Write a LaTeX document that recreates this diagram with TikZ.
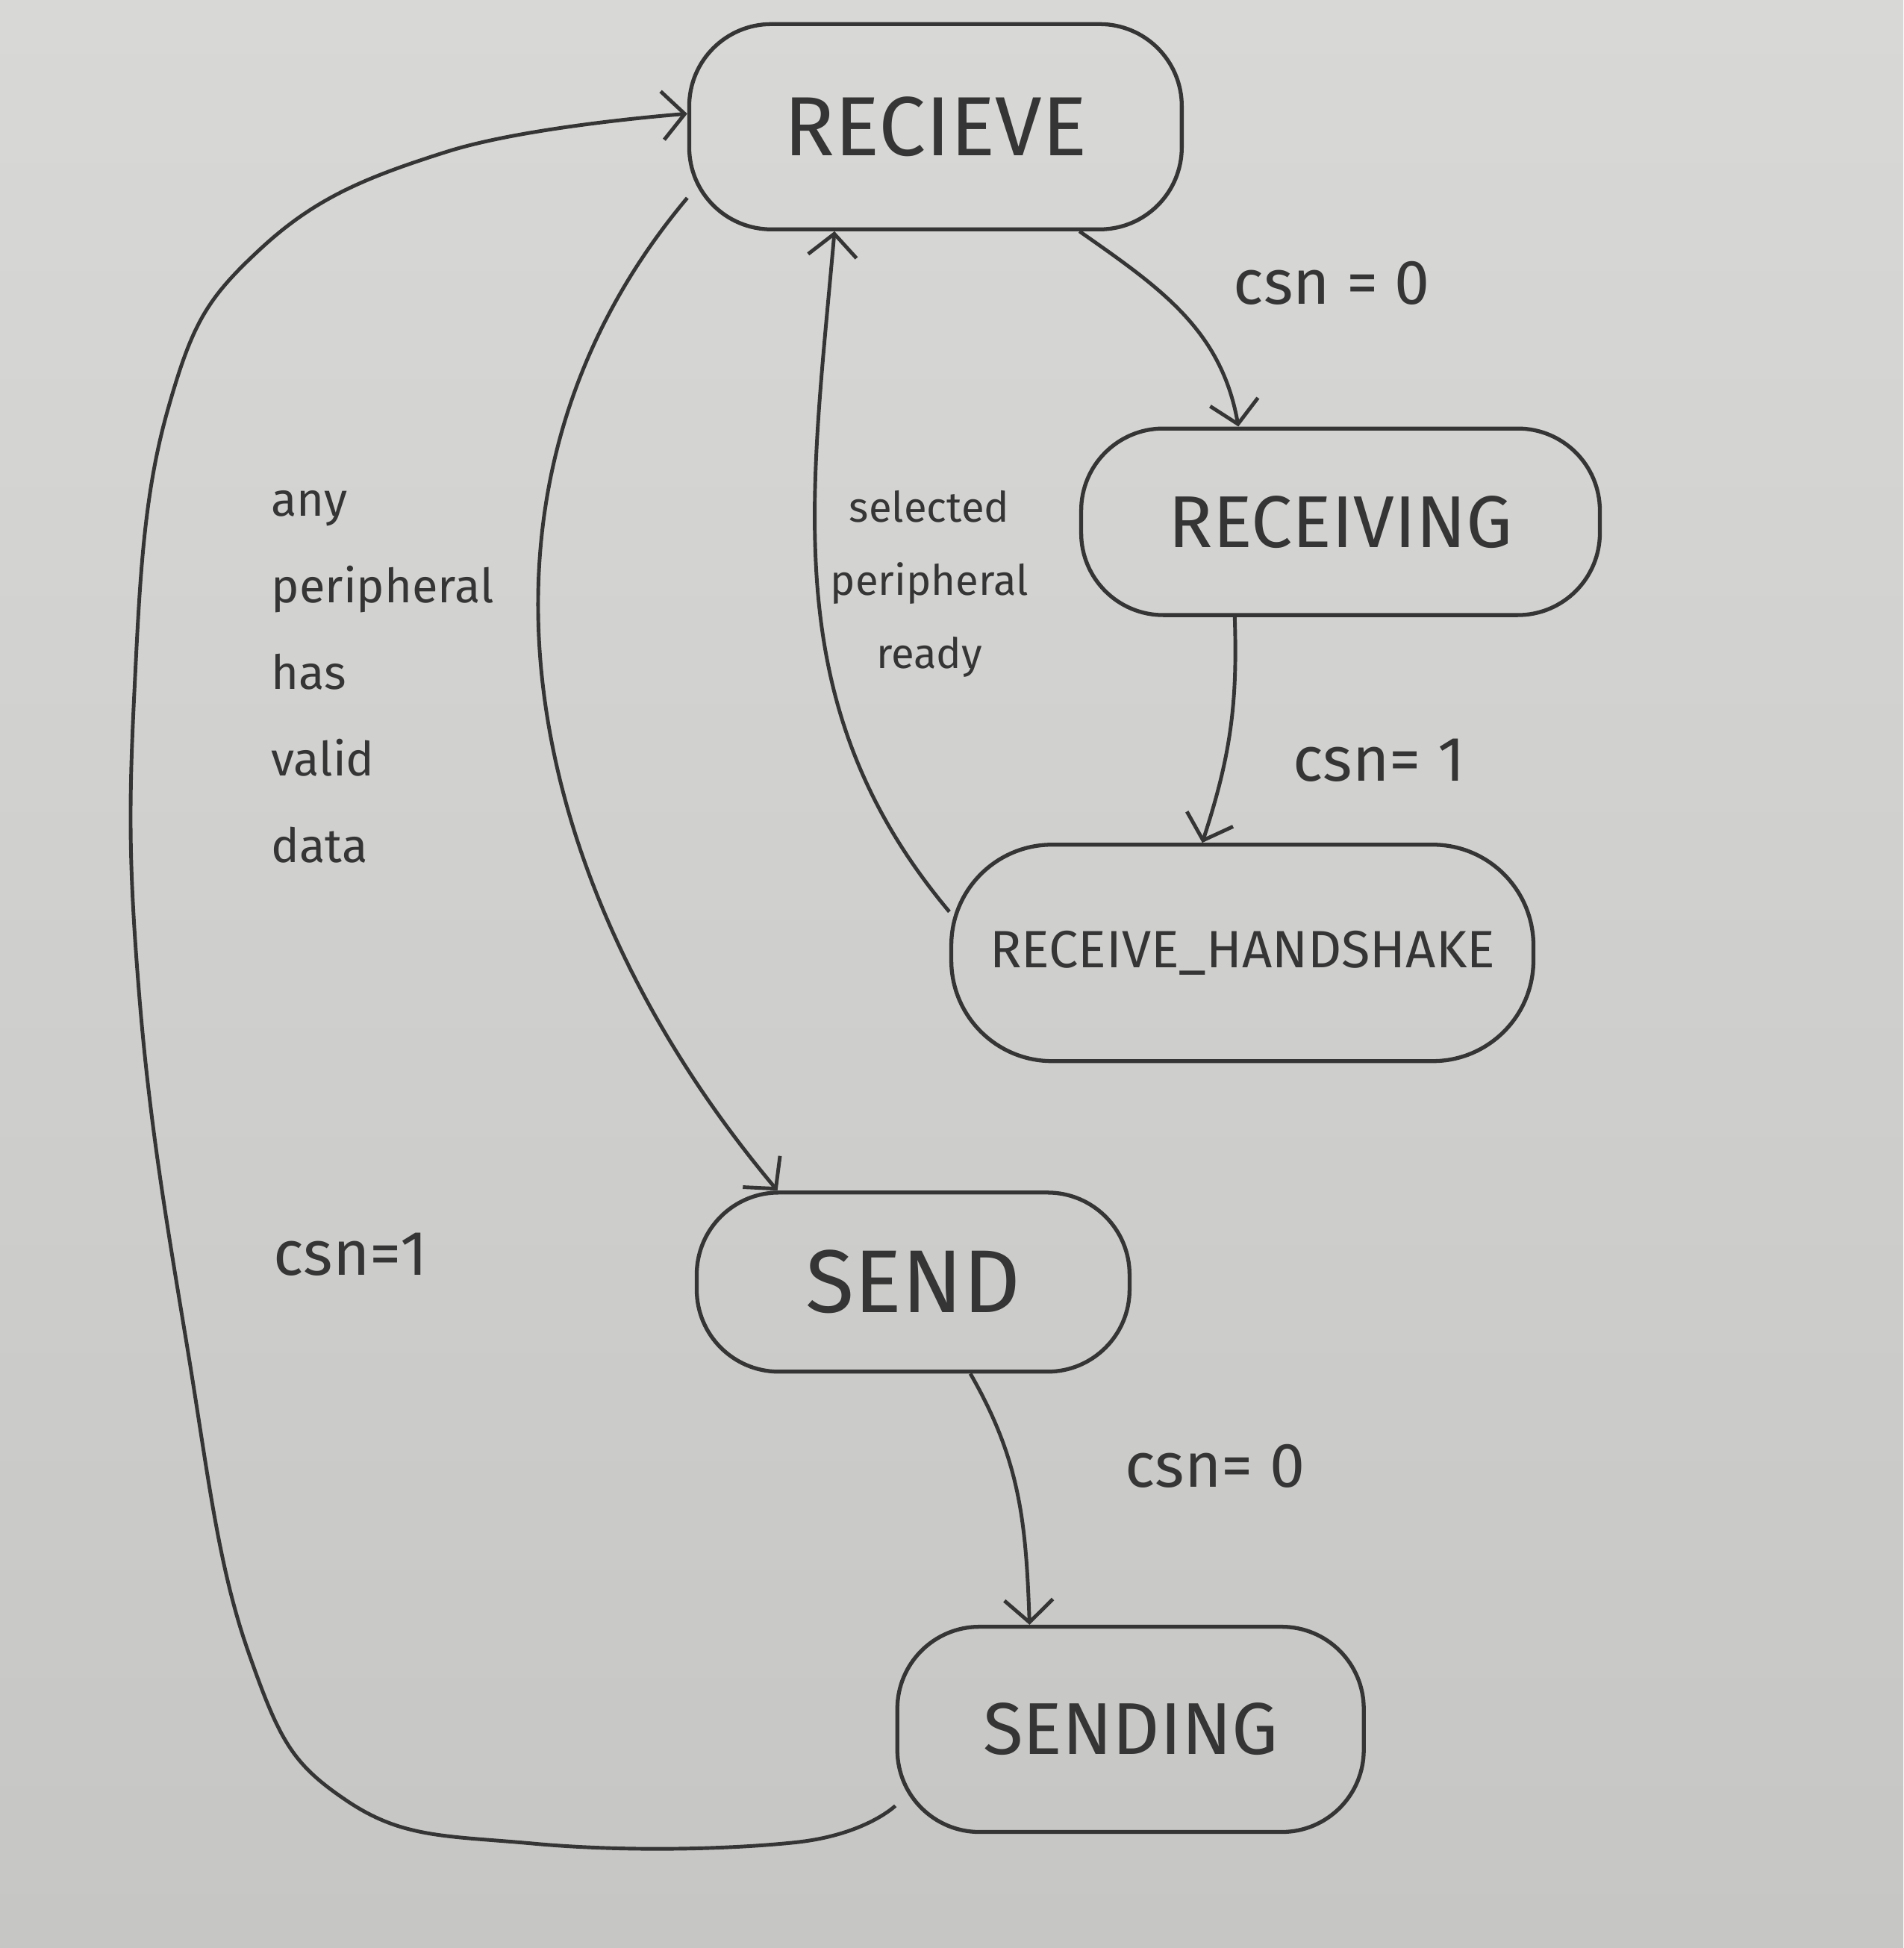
\documentclass[tikz,border=0pt]{standalone}
\usepackage{fontspec}
\setmainfont{Fira Sans}
\usepackage{xcolor}
\definecolor{paperlight}{HTML}{D8D8D6}
\definecolor{paperdark}{HTML}{C6C6C4}
\definecolor{ink}{HTML}{353535}
\usetikzlibrary{arrows.meta}
\tikzset{
  >={Straight Barb[length=3mm, width=6.5mm]},
  state/.style={
    rectangle, rounded corners=1.1cm, draw=ink, line width=1.5pt,
    text=ink, align=center, inner sep=0pt
  },
  trans/.style={->, ink, line width=1.4pt},
  cond/.style={text=ink, inner sep=0pt, font=\fontsize{24}{28}\selectfont},
  note/.style={text=ink, inner sep=0pt}
}

\begin{document}
\begin{tikzpicture}[x=0.016645cm, y=-0.016645cm]

% paper
\shade[top color=paperlight, bottom color=paperdark] (0,0) rectangle (1532,1568);
\useasboundingbox (0,0) rectangle (1532,1568);

% states
\node[state, minimum width=6.6cm, minimum height=2.75cm, font=\fontsize{32}{36}\selectfont]
  (recieve) at (753,102) {RECIEVE};
\node[state, minimum width=6.95cm, minimum height=2.5cm, font=\fontsize{28}{32}\selectfont]
  (receiving) at (1079,420) {RECEIVING};
\node[state, minimum width=7.8cm, minimum height=2.9cm, rounded corners=1.35cm, font=\fontsize{20}{24}\selectfont]
  (handshake) at (1000,767) {RECEIVE\_HANDSHAKE};
\node[state, minimum width=5.8cm, minimum height=2.4cm, font=\fontsize{34}{38}\selectfont]
  (send) at (735,1032) {SEND};
\node[state, minimum width=6.25cm, minimum height=2.75cm, font=\fontsize{28}{32}\selectfont]
  (sending) at (910,1392) {SENDING};

% receive side
\draw[trans] (recieve.-36) to[out=-35, in=100] (receiving.137);
\node[cond] (c1) at (1072,228) {csn = 0};
\draw[trans] (receiving.-138) to[out=-88, in=72] (handshake.110);
\node[cond] (c2) at (1110,612) {csn= 1};
\draw[trans] (handshake.172) to[out=130, in=-95] (recieve.-134);
\node[note, align=center, font=\fontsize{16}{28}\selectfont] (ready) at (748,470)
  {selected\\peripheral\\ready};

% send side
\draw[trans] (recieve.196) to[out=-130, in=130] (send.146);
\node[note, align=left, anchor=west, font=\fontsize{18}{33}\selectfont] (valid) at (218,545)
  {any\\peripheral\\has\\valid\\data};
\draw[trans] (send.-58) to[out=-60, in=92] (sending.134);
\node[cond] (c3) at (978,1180) {csn= 0};

% back to RECIEVE
\draw[trans] plot[smooth, tension=0.7] coordinates {(sending.198) (640,1483)
  (430,1484) (280,1450) (200,1330) (150,1080) (112,800) (108,560)
  (135,330) (210,200) (360,122) (recieve.177)};
\node[cond] (c4) at (282,1010) {csn=1};

\end{tikzpicture}
\end{document}
